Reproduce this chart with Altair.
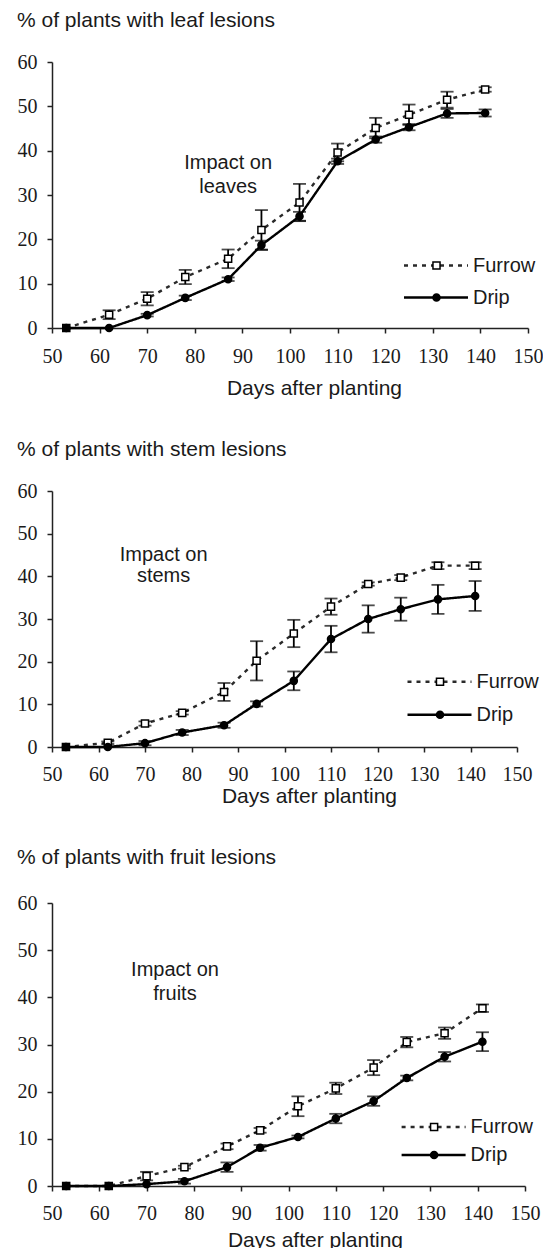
import altair as alt
import pandas as pd

DAYS = [53, 62, 70, 78, 87, 94, 102, 110, 118, 125, 133, 141]
SERIES = ["Furrow", "Drip"]
MARKERS = ["Furrow marker", "Drip marker"]

LEAF_FURROW = [0, 3.0, 6.6, 11.5, 15.6, 22.1, 28.3, 39.6, 45.1, 48.1, 51.5, 53.8]
LEAF_FURROW_ERR = [0, 1.0, 1.5, 1.6, 2.1, 4.5, 4.2, 2.0, 2.3, 2.3, 1.8, 0.5]
LEAF_DRIP = [0, 0, 2.9, 6.8, 11.0, 18.7, 25.2, 37.6, 42.5, 45.3, 48.4, 48.5]
LEAF_DRIP_ERR = [0, 0, 0.3, 0.5, 0.4, 1.0, 1.0, 0.6, 0.7, 0.7, 1.0, 0.8]

STEM_FURROW = [0, 1.0, 5.5, 8.0, 12.9, 20.2, 26.6, 32.9, 38.2, 39.7, 42.5, 42.5]
STEM_FURROW_ERR = [0, 0.3, 0.5, 0.4, 2.1, 4.6, 3.2, 1.9, 0.4, 0.6, 0.8, 0.8]
STEM_DRIP = [0, 0, 0.9, 3.4, 5.1, 10.1, 15.5, 25.3, 30.0, 32.3, 34.6, 35.4]
STEM_DRIP_ERR = [0, 0, 0.5, 0.6, 0.6, 0.6, 2.2, 3.1, 3.2, 2.7, 3.4, 3.5]

FRUIT_FURROW = [0, 0, 2.1, 4.0, 8.4, 11.8, 16.9, 20.7, 25.1, 30.5, 32.4, 37.7]
FRUIT_FURROW_ERR = [0, 0, 0.9, 0.3, 0.6, 0.5, 2.1, 1.2, 1.6, 1.1, 1.2, 0.8]
FRUIT_DRIP = [0, 0, 0.4, 1.0, 4.0, 8.1, 10.4, 14.3, 18.0, 22.9, 27.4, 30.6]
FRUIT_DRIP_ERR = [0, 0, 0, 0.5, 1.0, 0.6, 0.3, 1.0, 1.0, 0.5, 1.0, 2.0]

TITLES = ["% of plants with leaf lesions", "% of plants with stem lesions",
          "% of plants with fruit lesions"]
ANNOT_TEXT = ["Impact on\nleaves", "Impact on\nstems", "Impact on\nfruits"]
ANNOT_X = [87, 74, 76]
ANNOT_Y = [37.2, 45.1, 45.7]
X_TITLE = "Days after planting"
X_TICKS = list(range(50, 151, 10))
Y_TICKS = list(range(0, 61, 10))

SANS = "Liberation Sans"
SERIF = "Liberation Serif"
INK = "#1a1a1a"


def make_df(furrow, furrow_err, drip, drip_err):
    rows = []
    for k, (vals, errs) in enumerate(((furrow, furrow_err), (drip, drip_err))):
        for d, v, e in zip(DAYS, vals, errs):
            rows.append({"Day": d, "Value": v, "Err": e, "Treatment": SERIES[k],
                         "Marker": MARKERS[k], "Low": v - e, "High": v + e})
    return pd.DataFrame(rows)


def panel(i, furrow, furrow_err, drip, drip_err, w, h, title_x, title_y,
          label_pad, title_offset, leg_x, leg_y, row_pad, line_h):
    df = make_df(furrow, furrow_err, drip, drip_err)
    base = alt.Chart(df)
    x = alt.X("Day:Q", scale=alt.Scale(domain=[50, 150], nice=False),
              axis=alt.Axis(values=X_TICKS, title=X_TITLE, titleX=title_x,
                            titleY=title_y, titleBaseline="alphabetic",
                            titleAlign="center", labelPadding=label_pad,
                            labelFlush=False))
    y = alt.Y("Value:Q", scale=alt.Scale(domain=[0, 60], nice=False),
              axis=alt.Axis(values=Y_TICKS, title=None, labelFlush=False))

    leg_lines = alt.Legend(orient="none", legendX=leg_x, legendY=leg_y,
                           title=None, symbolType="M -4 0 L 4 0",
                           symbolSize=256, symbolStrokeWidth=2.5,
                           labelOffset=27, rowPadding=row_pad,
                           labelFont=SANS, labelFontSize=20, labelColor=INK,
                           padding=0)
    leg_marks = alt.Legend(orient="none", legendX=leg_x + 0.5, legendY=leg_y,
                           title=None, symbolSize=50, symbolStrokeWidth=1.5,
                           symbolStrokeColor="black", rowPadding=row_pad,
                           labelFontSize=20, labelExpr="''", labelLimit=1,
                           padding=0)

    dash_scale = alt.Scale(domain=SERIES, range=[[4, 5], [1, 0]])
    col_scale = alt.Scale(domain=SERIES, range=["#2a2a2a", "#000000"])
    lines = base.mark_line(strokeWidth=2.4).encode(
        x=x, y=y,
        strokeDash=alt.StrokeDash("Treatment:N", scale=dash_scale, legend=leg_lines),
        color=alt.Color("Treatment:N", scale=col_scale, legend=leg_lines),
    )
    bars = base.transform_filter("datum.Err > 0")
    rule = bars.mark_rule(color="black", strokeWidth=1.8).encode(
        x=x, y="Low:Q", y2="High:Q")
    cap_lo = bars.mark_tick(orient="horizontal", size=13, thickness=1.8,
                            color="black").encode(x=x, y="Low:Q")
    cap_hi = bars.mark_tick(orient="horizontal", size=13, thickness=1.8,
                            color="black").encode(x=x, y="High:Q")
    pts = base.mark_point(filled=True, size=50, strokeWidth=1.5,
                          opacity=1).encode(
        x=x, y=y,
        shape=alt.Shape("Marker:N",
                        scale=alt.Scale(domain=MARKERS, range=["square", "circle"]),
                        legend=leg_marks),
        fill=alt.Fill("Marker:N",
                      scale=alt.Scale(domain=MARKERS, range=["white", "black"]),
                      legend=leg_marks),
        stroke=alt.Stroke("Marker:N",
                          scale=alt.Scale(domain=MARKERS, range=["black", "black"]),
                          legend=leg_marks),
    )
    annot = alt.Chart(pd.DataFrame({"t": [ANNOT_TEXT[i]]})).mark_text(
        lineBreak="\n", fontSize=20, font=SANS, lineHeight=line_h, color=INK,
        align="center", baseline="middle").encode(
        x=alt.datum(ANNOT_X[i]), y=alt.datum(ANNOT_Y[i]), text="t:N")

    return alt.layer(lines, rule, cap_lo, cap_hi, pts, annot).properties(
        width=w, height=h,
        title=alt.TitleParams(TITLES[i], anchor="start", frame="bounds",
                              fontSize=21, font=SANS, fontWeight="normal",
                              color=INK, baseline="alphabetic",
                              offset=title_offset),
    )


p1 = panel(0, LEAF_FURROW, LEAF_FURROW_ERR, LEAF_DRIP, LEAF_DRIP_ERR,
           476, 266, 262, 66.5, 13, 4, 374, 193.5, 12, 23.5)
p2 = panel(1, STEM_FURROW, STEM_FURROW_ERR, STEM_DRIP, STEM_DRIP_ERR,
           465, 256, 257, 55.5, 12, 4, 377.5, 180.7, 13, 21.5)
p3 = panel(2, FRUIT_FURROW, FRUIT_FURROW_ERR, FRUIT_DRIP, FRUIT_DRIP_ERR,
           473, 283, 263, 60.5, 12, 8, 371.6, 214, 8, 24)

chart = alt.vconcat(p1, p2, p3, spacing=40).resolve_scale(
    x="independent", y="independent", color="independent",
    strokeDash="independent", shape="independent", fill="independent",
    stroke="independent",
).properties(
    padding={"left": 9, "top": 2, "right": 0, "bottom": 0}
).configure_view(stroke=None).configure_axis(
    grid=False, domainColor="#222", domainWidth=1.5, tickColor="#222",
    tickWidth=1.5, tickSize=5, labelFont=SERIF, labelFontSize=20,
    labelColor=INK, titleFont=SANS, titleFontSize=21, titleColor=INK,
    titleFontWeight="normal",
).configure_axisY(labelPadding=10)

chart.save("out.html", embed_options={"renderer": "svg", "actions": False})
